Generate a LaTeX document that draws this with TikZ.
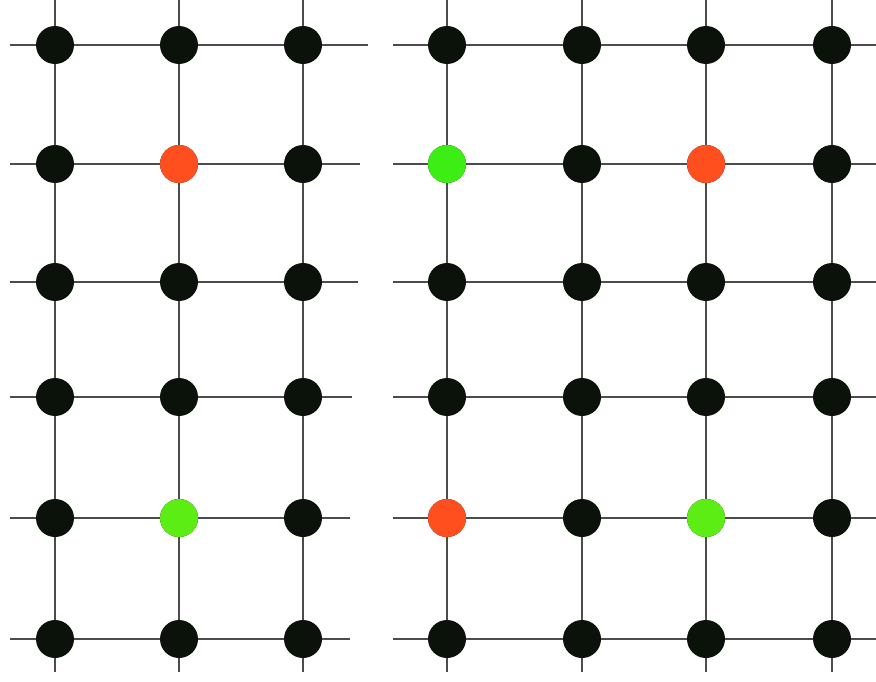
\documentclass[tikz,border=0pt]{standalone}
\begin{document}
\begin{tikzpicture}[x=1pt,y=-1pt,
  gline/.style={draw=black!70,line width=1.6pt},
  dot/.style={circle,inner sep=0pt,minimum size=38pt,fill=dotblack,draw=none},
  reddot/.style={dot,fill=dotred},
  greendot/.style={dot,fill=dotgreen}]
\definecolor{dotblack}{HTML}{0A120A}
\definecolor{dotred}{HTML}{FF4F1F}
\definecolor{dotgreen}{HTML}{5CEE14}
\definecolor{dotgreenb}{HTML}{3CEE14}
\useasboundingbox[fill=white] (0,0) rectangle (876,682);
% left grid
\foreach \y/\e [count=\r] in {45/368,164/360,282/358,397/352,518/350,639/350}{
  \coordinate (LA\r) at (10,\y); \coordinate (LB\r) at (\e,\y);
  \draw[gline] (LA\r) -- (LB\r);}
\foreach \x [count=\c] in {55,179,303}{
  \coordinate (LT\c) at (\x,0); \coordinate (LD\c) at (\x,672);
  \draw[gline] (LT\c) -- (LD\c);}
% right grid
\foreach \y [count=\r] in {45,164,282,397,518,639}{
  \coordinate (RA\r) at (393,\y); \coordinate (RB\r) at (876,\y);
  \draw[gline] (RA\r) -- (RB\r);}
\foreach \x [count=\c] in {447,582,706,832}{
  \coordinate (RT\c) at (\x,0); \coordinate (RD\c) at (\x,672);
  \draw[gline] (RT\c) -- (RD\c);}
% left dots
\foreach \y [count=\r] in {45,164,282,397,518,639}{
  \foreach \x [count=\c] in {55,179,303}{
    \node[dot] (l\r\c) at (\x,\y) {};}}
\node[reddot] (lred) at (179,164) {};
\node[greendot] (lgreen) at (179,518) {};
% right dots
\foreach \y [count=\r] in {45,164,282,397,518,639}{
  \foreach \x [count=\c] in {447,582,706,832}{
    \node[dot] (r\r\c) at (\x,\y) {};}}
\node[greendot,fill=dotgreenb] (rgreen1) at (447,164) {};
\node[reddot] (rred1) at (706,164) {};
\node[reddot] (rred2) at (447,518) {};
\node[greendot] (rgreen2) at (706,518) {};
\end{tikzpicture}
\end{document}
